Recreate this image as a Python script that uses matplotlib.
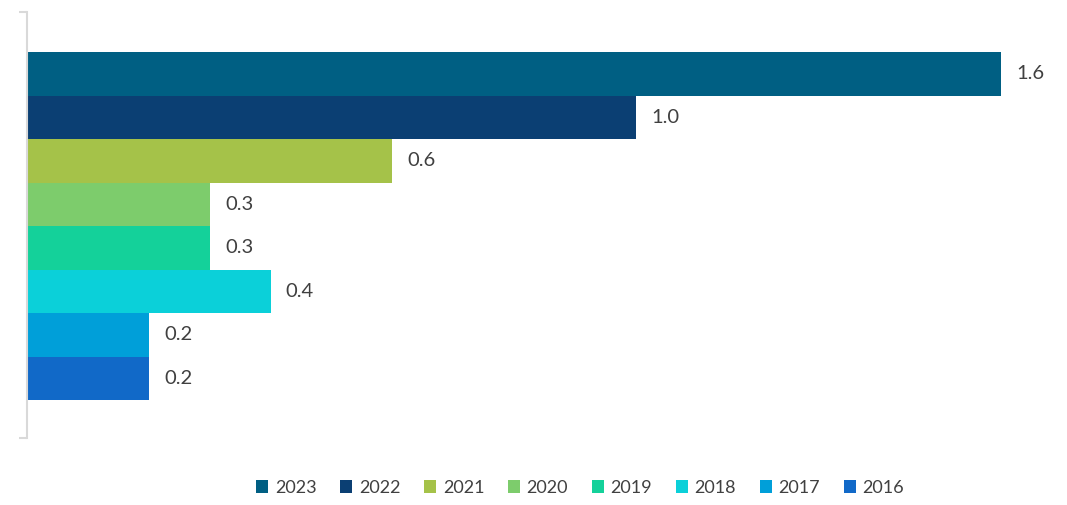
import matplotlib.pyplot as plt
from matplotlib.patches import Patch

# Data (top to bottom as drawn)
years = ['2023', '2022', '2021', '2020', '2019', '2018', '2017', '2016']
values = [1.6, 1.0, 0.6, 0.3, 0.3, 0.4, 0.2, 0.2]
colors = ['#005f83', '#0b3f73', '#a5c249', '#7dcc6c', '#14d19a', '#0bd0d9', '#009fd9', '#1169c8']

W, H = 1067, 505
plt.rcParams['font.family'] = ['Lato', 'DejaVu Sans']

fig = plt.figure(figsize=(W / 100, H / 100), dpi=100)
ax = fig.add_axes([27 / W, (H - 438) / H, (1050 - 27) / W, 426 / H])

n = len(years)
pos = [n - 1 - i for i in range(n)]
ax.barh(pos, values, height=1.0, color=colors)

for p, v in zip(pos, values):
    ax.annotate(f'{v:.1f}', (v, p), xytext=(11, 0), textcoords='offset points',
                va='center', ha='left', fontsize=14.5, color='#404040')

ax.set_xlim(0, 1023 / 608.75)
ax.set_ylim(-0.5 - 38 / 43.5, n - 0.5 + 40 / 43.5)

for s in ['top', 'right', 'bottom']:
    ax.spines[s].set_visible(False)
ax.spines['left'].set_color('#d9d9d9')
ax.spines['left'].set_linewidth(1.5)
ax.set_xticks([])
ax.set_yticks(ax.get_ylim())
ax.set_yticklabels([])
ax.tick_params(axis='y', length=6, width=1.5, color='#d9d9d9')

handles = [Patch(facecolor=c, edgecolor='none') for c in colors]
fig.legend(handles, years, loc='center', bbox_to_anchor=(580 / W, 17 / H), ncol=n,
           frameon=False, fontsize=13, handlelength=0.7, handleheight=0.7,
           handletextpad=0.35, columnspacing=1.3, labelcolor='#404040')

fig.savefig('out.png', dpi=100)
